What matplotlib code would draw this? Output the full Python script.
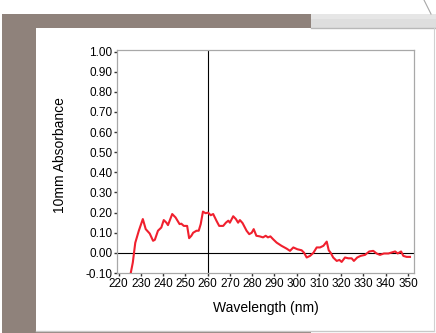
import matplotlib
matplotlib.use('Agg')
import matplotlib.pyplot as plt
from matplotlib.patches import Rectangle
from matplotlib.lines import Line2D

plt.rcParams['font.family'] = ['Liberation Sans', 'DejaVu Sans']

# UV spectrum, 10 mm path
wavelength = [225.3, 226.4, 227.5, 229.1, 230.9, 232.2, 234.0, 235.5, 236.3, 237.7,
              239.2, 240.3, 241.5, 242.2, 244.1, 245.6, 247.4, 248.2, 249.3, 250.8,
              251.7, 252.7, 253.5, 255.0, 256.0, 256.9, 257.9, 259.1, 260.2, 261.4,
              262.5, 264.0, 265.2, 267.0, 268.2, 269.3, 270.0, 271.5, 272.7, 273.7,
              274.5, 275.7, 277.5, 278.7, 279.8, 280.7, 281.9, 283.4, 284.9, 286.1,
              287.1, 288.2, 289.4, 291.0, 293.2, 295.5, 297.0, 298.5, 300.3, 302.2,
              303.3, 304.5, 306.0, 307.5, 309.0, 310.5, 312.0, 313.5, 314.4, 315.3,
              316.4, 318.0, 319.2, 320.2, 321.7, 323.2, 324.7, 325.7, 327.2, 328.7,
              330.7, 332.6, 334.4, 335.9, 337.4, 339.2, 341.2, 342.7, 344.2, 345.4,
              346.9, 347.9, 349.4, 350.9]
absorbance = [-0.110, -0.048, 0.050, 0.110, 0.168, 0.118, 0.096, 0.060, 0.065, 0.110,
              0.126, 0.163, 0.150, 0.138, 0.193, 0.176, 0.143, 0.145, 0.134, 0.134,
              0.073, 0.085, 0.100, 0.110, 0.110, 0.143, 0.205, 0.197, 0.200, 0.187,
              0.193, 0.159, 0.134, 0.134, 0.150, 0.160, 0.150, 0.182, 0.168, 0.150,
              0.163, 0.148, 0.110, 0.093, 0.100, 0.118, 0.085, 0.082, 0.077, 0.085,
              0.077, 0.082, 0.068, 0.051, 0.035, 0.021, 0.010, 0.027, 0.018, 0.013,
              0.001, -0.023, -0.015, 0.000, 0.027, 0.027, 0.035, 0.056, 0.013, 0.000,
              -0.023, -0.040, -0.035, -0.045, -0.023, -0.027, -0.027, -0.040, -0.023, -0.015,
              -0.010, 0.007, 0.010, -0.003, -0.010, -0.003, -0.003, 0.002, 0.007, -0.003,
              0.007, -0.015, -0.020, -0.020]

x_ticks = list(range(220, 351, 10))
y_ticks = [round(-0.1 + 0.1 * i, 2) for i in range(12)]
marker_wl = 260

W, H = 436, 333
fig = plt.figure(figsize=(W / 100, H / 100), dpi=100)
fig.patch.set_facecolor('white')


def box(x0, y0, x1, y1, **kw):
    # rectangle given in pixel coords measured from the top-left corner
    fig.add_artist(Rectangle((x0 / W, 1 - y1 / H), (x1 - x0) / W, (y1 - y0) / H,
                             transform=fig.transFigure, zorder=-10, **kw))


def hline(x0, x1, y, **kw):
    fig.add_artist(Line2D([x0 / W, x1 / W], [1 - y / H] * 2,
                          transform=fig.transFigure, zorder=-5, **kw))


# window frame behind the plot panel
box(2, 14, 311, 333, facecolor='#8f827b', edgecolor='none')
box(311, 14, 436, 28, facecolor='#dedede', edgecolor='none')
box(311, 14, 436, 19, facecolor='#e6e6e6', edgecolor='none')
box(36, 28, 434, 331, facecolor='white', edgecolor='none')
hline(311, 436, 28, color='#b8b8b8', lw=1)
hline(36, 434, 331, color='#c8c8c8', lw=1)
fig.add_artist(Line2D([434 / W] * 2, [1 - 28 / H, 1 - 331 / H], color='#d0d0d0', lw=0.8,
                      transform=fig.transFigure, zorder=-5))
fig.add_artist(Line2D([424 / W, 431 / W], [1, 1 - 14 / H], color='#a8a8a8', lw=0.8,
                      transform=fig.transFigure, zorder=-5))

ax = fig.add_axes([117 / W, 1 - 273 / H, (414 - 117) / W, (273 - 50) / H])
ax.set_facecolor('white')
ax.plot(wavelength, absorbance, color='#f0202e', lw=1.5, zorder=3)
ax.axhline(0, color='black', lw=0.8, zorder=2)
ax.axvline(marker_wl, color='black', lw=0.8, zorder=2)

ax.set_xlim(219.3, 352.7)
ax.set_ylim(-0.10, 1.008)
ax.set_xticks(x_ticks)
ax.set_xticklabels([str(t) for t in x_ticks])
ax.set_yticks(y_ticks)
ax.set_yticklabels(['%.2f' % t for t in y_ticks])
ax.tick_params(labelsize=8.5, length=2.5, width=1, color='#333333', pad=1)

for s in ax.spines.values():
    s.set_color('#a8a8a8')
    s.set_linewidth(0.9)

ax.set_xlabel('Wavelength (nm)', fontsize=10)
ax.xaxis.set_label_coords(0.5, -0.125)
ax.set_ylabel('10mm Absorbance', fontsize=10)
ax.yaxis.set_label_coords(-0.17, 0.53)

fig.savefig('out.png', dpi=100)
